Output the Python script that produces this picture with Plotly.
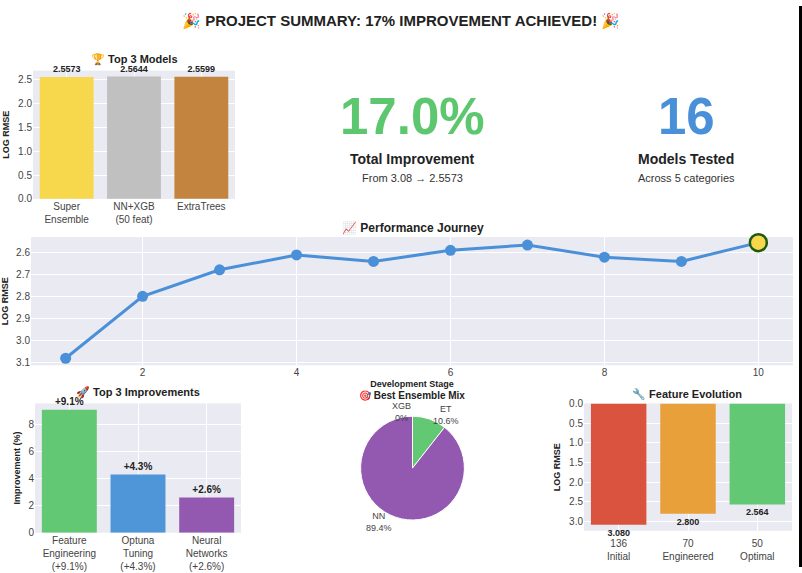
import math
import plotly.graph_objects as go

W, H = 802, 573

# ---------------- data ----------------
top_models = ["Super<br>Ensemble", "NN+XGB<br>(50 feat)", "ExtraTrees"]
top_scores = [2.5573, 2.5644, 2.5599]

total_improvement = 17.0
models_tested = 16
start_score = 3.08
final_score = 2.5573

stages = [1, 2, 3, 4, 5, 6, 7, 8, 9, 10]
stage_scores = [3.08, 2.80, 2.68, 2.613, 2.642, 2.592, 2.568, 2.623, 2.642, 2.5573]

impr_labels = ["Feature<br>Engineering<br>(+9.1%)", "Optuna<br>Tuning<br>(+4.3%)", "Neural<br>Networks<br>(+2.6%)"]
impr_values = [9.1, 4.3, 2.6]

mix_labels = ["XGB", "ET", "NN"]
mix_values = [0.0, 10.6, 89.4]

feat_labels = ["136<br>Initial", "70<br>Engineered", "50<br>Optimal"]
feat_scores = [3.080, 2.800, 2.564]

# ---------------- helpers ----------------
def xd(a, b):
    return [a / W, b / W]

def yd(top, bottom):
    return [1 - bottom / H, 1 - top / H]

FONT = "Liberation Sans, Arial, sans-serif"
BG = "#EAEAF2"
TICK = dict(size=10, color="#444444", family=FONT)
TITLE_F = dict(size=9, color="#222222", family=FONT)

fig = go.Figure()

# Top 3 models
fig.add_trace(go.Bar(
    x=top_models, y=top_scores, xaxis="x", yaxis="y",
    marker=dict(color=["#F7D74C", "#C0C0C0", "#C2843F"], line=dict(width=0)),
    text=[f"<b>{v:.4f}</b>" for v in top_scores], textposition="outside",
    textfont=dict(size=9, color="#222222", family=FONT),
    cliponaxis=False, width=0.8, showlegend=False,
))

# Performance journey
fig.add_trace(go.Scatter(
    x=stages, y=stage_scores, xaxis="x2", yaxis="y2", mode="lines+markers",
    line=dict(color="#4A90D9", width=3),
    marker=dict(size=11, color="#4A90D9"), showlegend=False, cliponaxis=False,
))
fig.add_trace(go.Scatter(
    x=stages[-1:], y=stage_scores[-1:], xaxis="x2", yaxis="y2", mode="markers",
    marker=dict(size=17, color="#F7D74C", line=dict(color="#1E5A0E", width=2.5)),
    showlegend=False, cliponaxis=False,
))

# Top 3 improvements
fig.add_trace(go.Bar(
    x=impr_labels, y=impr_values, xaxis="x3", yaxis="y3",
    marker=dict(color=["#62C874", "#4F96D8", "#9359B0"], line=dict(width=0)),
    text=[f"<b>+{v:.1f}%</b>" for v in impr_values], textposition="outside",
    textfont=dict(size=10, color="#222222", family=FONT),
    cliponaxis=False, width=0.8, showlegend=False,
))

# Ensemble mix pie
PIE_X0, PIE_X1, PIE_Y0, PIE_Y1 = 360, 465, 419, 525
fig.add_trace(go.Pie(
    labels=mix_labels, values=mix_values, sort=False, direction="clockwise",
    rotation=0,
    marker=dict(colors=["#4F96D8", "#62C874", "#9359B0"], line=dict(color="white", width=1)),
    textinfo="none",
    domain=dict(x=xd(PIE_X0, PIE_X1), y=yd(PIE_Y0, PIE_Y1)),
    showlegend=False, hoverinfo="skip",
))

# Feature evolution
fig.add_trace(go.Bar(
    x=feat_labels, y=feat_scores, xaxis="x4", yaxis="y4",
    marker=dict(color=["#D9533F", "#E8A03A", "#62C874"], line=dict(width=0)),
    text=[f"<b>{v:.3f}</b>" for v in feat_scores], textposition="outside",
    textfont=dict(size=9, color="#222222", family=FONT),
    cliponaxis=False, width=0.8, showlegend=False,
))

ax_common = dict(showline=False, zeroline=False, gridcolor="white", gridwidth=1,
                 tickfont=TICK, ticks="", showgrid=True)

fig.update_layout(
    width=W, height=H, margin=dict(l=0, r=0, t=0, b=0),
    paper_bgcolor="white", plot_bgcolor=BG,
    font=dict(family=FONT, color="#333333"),
    bargap=0.2,
    xaxis=dict(domain=xd(33, 235), anchor="y", range=[-0.5, 2.5], **ax_common),
    yaxis=dict(domain=yd(66, 197), anchor="x", range=[0, 2.69], dtick=0.5, tickformat=".1f",
               title=dict(text="<b>LOG RMSE</b>", font=TITLE_F, standoff=6), **ax_common),
    xaxis2=dict(domain=xd(31, 793), anchor="y2", range=[0.55, 10.45], tickvals=[2, 4, 6, 8, 10],
                title=dict(text="<b>Development Stage</b>", font=TITLE_F, standoff=3), **ax_common),
    yaxis2=dict(domain=yd(236, 367), anchor="x2", range=[3.112, 2.532], tickvals=[2.6, 2.7, 2.8, 2.9, 3.0, 3.1],
                tickformat=".1f", title=dict(text="<b>LOG RMSE</b>", font=TITLE_F, standoff=6), **ax_common),
    xaxis3=dict(domain=xd(35, 241), anchor="y3", range=[-0.5, 2.5], **ax_common),
    yaxis3=dict(domain=yd(406, 538), anchor="x3", range=[0, 9.555], tickvals=[0, 2, 4, 6, 8],
                title=dict(text="<b>Improvement (%)</b>", font=TITLE_F, standoff=6), **ax_common),
    xaxis4=dict(domain=xd(584, 792), anchor="y4", range=[-0.5, 2.5], ticklabelstandoff=5, **ax_common),
    yaxis4=dict(domain=yd(406, 536), anchor="x4", range=[3.234, 0], dtick=0.5, tickformat=".1f",
                title=dict(text="<b>LOG RMSE</b>", font=TITLE_F, standoff=6), **ax_common),
)

def ann(x, y, text, size, color="#222222", bold=False, family=FONT, xanchor="center"):
    fig.add_annotation(x=x / W, y=1 - y / H, xref="paper", yref="paper",
                       text=(f"<b>{text}</b>" if bold else text), showarrow=False,
                       font=dict(size=size, color=color, family=family),
                       xanchor=xanchor, yanchor="middle")

ann(401, 15, "🎉 PROJECT SUMMARY: 17% IMPROVEMENT ACHIEVED! 🎉", 15, bold=True)
ann(134, 55, "🏆 Top 3 Models", 11, bold=True)
ann(413, 227, "📈 Performance Journey", 12, bold=True)
ann(138, 395, "🚀 Top 3 Improvements", 11, bold=True)
ann(412, 398, "🎯 Best Ensemble Mix", 10, bold=True)
ann(687, 396, "🔧 Feature Evolution", 11, bold=True)

ann(413, 113, f"{total_improvement:.1f}%", 51, color="#5DC770", bold=True)
ann(413, 156, "Total Improvement", 14, bold=True)
ann(413, 176, f"From {start_score:.2f} → {final_score}", 11, color="#333333")
ann(686, 113, f"{models_tested}", 51, color="#4A90D9", bold=True)
ann(686, 156, "Models Tested", 14, bold=True)
ann(686, 176, "Across 5 categories", 11, color="#333333")

# pie labels placed at 1.1 radius on each slice's mid-angle (clockwise from 12 o'clock)
cx, cy = (PIE_X0 + PIE_X1) / 2, (PIE_Y0 + PIE_Y1) / 2
r = min(PIE_X1 - PIE_X0, PIE_Y1 - PIE_Y0) / 2
total = sum(mix_values)
acc = 0.0
for lab, v in zip(mix_labels, mix_values):
    mid = 90 - (acc + v / 2) / total * 360
    acc += v
    c, s = math.cos(math.radians(mid)), math.sin(math.radians(mid))
    tx, ty = cx + 1.1 * r * c, cy - 1.1 * r * s
    ann(tx, ty, f"{lab}<br>{v:g}%", 9, color="#444444",
        xanchor=("left" if c > 1e-6 else "right"))

fig.add_shape(type="rect", xref="paper", yref="paper", x0=799 / W, x1=1, y0=0, y1=1,
              fillcolor="black", line=dict(width=0), layer="above")

fig.write_html("out.html")
